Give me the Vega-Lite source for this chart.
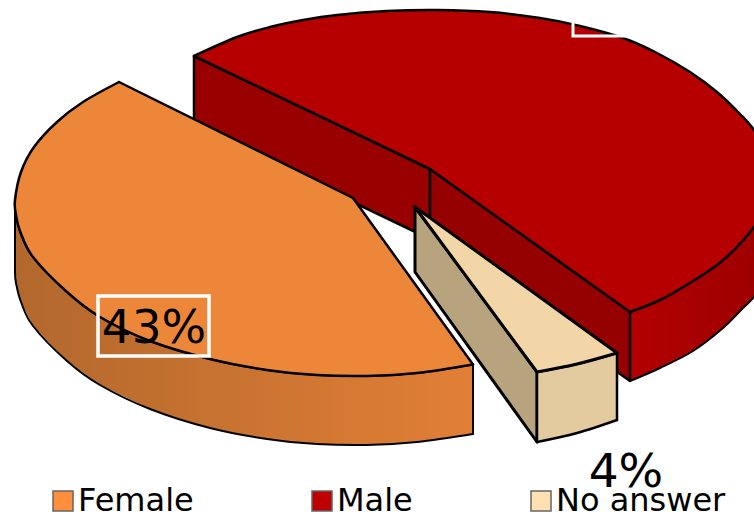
{"$schema":"https://vega.github.io/schema/vega-lite/v6.json","width":754,"height":514,"autosize":{"type":"fit","contains":"padding"},"padding":0,"background":"white","config":{"view":{"stroke":null}},
"datasets":{"faces":[
{"face":"mo","edge":1,"seq":1,"x":630,"y":312},{"face":"mo","edge":1,"seq":3,"x":660,"y":300},{"face":"mo","edge":1,"seq":4,"x":690,"y":283},{"face":"mo","edge":1,"seq":5,"x":717,"y":265},{"face":"mo","edge":1,"seq":6,"x":737,"y":247},{"face":"mo","edge":1,"seq":7,"x":754,"y":227},{"face":"mo","edge":1,"seq":8,"x":775,"y":195},{"face":"mo","edge":2,"seq":10,"x":775,"y":270},{"face":"mo","edge":2,"seq":12,"x":754,"y":297},{"face":"mo","edge":2,"seq":13,"x":743,"y":308},{"face":"mo","edge":2,"seq":14,"x":723,"y":328},{"face":"mo","edge":2,"seq":15,"x":693,"y":351},{"face":"mo","edge":2,"seq":16,"x":660,"y":368},{"face":"mo","edge":2,"seq":17,"x":630,"y":381},{"face":"mo","edge":3,"seq":18,"x":630,"y":381},{"face":"mo","edge":3,"seq":19,"x":630,"y":312},
{"face":"ms1","edge":1,"seq":1,"x":194,"y":56},{"face":"ms1","edge":1,"seq":2,"x":430,"y":169},{"face":"ms1","edge":1,"seq":3,"x":430,"y":239},{"face":"ms1","edge":1,"seq":4,"x":194,"y":126},{"face":"ms1","edge":1,"seq":5,"x":194,"y":56},
{"face":"ms2","edge":1,"seq":1,"x":430,"y":169},{"face":"ms2","edge":1,"seq":2,"x":630,"y":312},{"face":"ms2","edge":1,"seq":3,"x":630,"y":381},{"face":"ms2","edge":1,"seq":4,"x":430,"y":239},{"face":"ms2","edge":1,"seq":5,"x":430,"y":169},
{"face":"mt","edge":1,"seq":2,"x":194,"y":56},{"face":"mt","edge":1,"seq":3,"x":237,"y":37},{"face":"mt","edge":1,"seq":4,"x":270,"y":27},{"face":"mt","edge":1,"seq":5,"x":303,"y":20},{"face":"mt","edge":1,"seq":6,"x":337,"y":15},{"face":"mt","edge":1,"seq":7,"x":387,"y":11},{"face":"mt","edge":1,"seq":8,"x":437,"y":10},{"face":"mt","edge":1,"seq":9,"x":490,"y":12},{"face":"mt","edge":1,"seq":10,"x":540,"y":18},{"face":"mt","edge":1,"seq":11,"x":580,"y":26},{"face":"mt","edge":1,"seq":12,"x":623,"y":38},{"face":"mt","edge":1,"seq":13,"x":657,"y":53},{"face":"mt","edge":1,"seq":14,"x":690,"y":72},{"face":"mt","edge":1,"seq":15,"x":717,"y":92},{"face":"mt","edge":1,"seq":16,"x":740,"y":114},{"face":"mt","edge":1,"seq":17,"x":754,"y":130},{"face":"mt","edge":1,"seq":18,"x":768,"y":155},{"face":"mt","edge":1,"seq":19,"x":775,"y":195},{"face":"mt","edge":1,"seq":20,"x":754,"y":227},{"face":"mt","edge":1,"seq":21,"x":737,"y":247},{"face":"mt","edge":1,"seq":22,"x":717,"y":265},{"face":"mt","edge":1,"seq":23,"x":690,"y":283},{"face":"mt","edge":1,"seq":24,"x":660,"y":300},{"face":"mt","edge":1,"seq":25,"x":630,"y":312},{"face":"mt","edge":2,"seq":26,"x":630,"y":312},{"face":"mt","edge":2,"seq":27,"x":430,"y":169},{"face":"mt","edge":3,"seq":28,"x":430,"y":169},{"face":"mt","edge":3,"seq":29,"x":194,"y":56},
{"face":"fs","edge":1,"seq":2,"x":15,"y":205},{"face":"fs","edge":1,"seq":3,"x":20,"y":231},{"face":"fs","edge":1,"seq":4,"x":33,"y":257},{"face":"fs","edge":1,"seq":5,"x":67,"y":292},{"face":"fs","edge":1,"seq":6,"x":100,"y":317},{"face":"fs","edge":1,"seq":7,"x":150,"y":341},{"face":"fs","edge":1,"seq":8,"x":210,"y":359},{"face":"fs","edge":1,"seq":9,"x":267,"y":370},{"face":"fs","edge":1,"seq":10,"x":317,"y":375},{"face":"fs","edge":1,"seq":11,"x":367,"y":376},{"face":"fs","edge":1,"seq":12,"x":417,"y":373},{"face":"fs","edge":1,"seq":13,"x":473,"y":364.5},{"face":"fs","edge":2,"seq":14,"x":473,"y":364.5},{"face":"fs","edge":2,"seq":15,"x":473,"y":434},{"face":"fs","edge":3,"seq":16,"x":473,"y":434},{"face":"fs","edge":3,"seq":17,"x":417,"y":442},{"face":"fs","edge":3,"seq":18,"x":367,"y":445},{"face":"fs","edge":3,"seq":19,"x":317,"y":444},{"face":"fs","edge":3,"seq":20,"x":267,"y":439},{"face":"fs","edge":3,"seq":21,"x":210,"y":428},{"face":"fs","edge":3,"seq":22,"x":150,"y":409},{"face":"fs","edge":3,"seq":23,"x":100,"y":385},{"face":"fs","edge":3,"seq":24,"x":67,"y":361},{"face":"fs","edge":3,"seq":25,"x":33,"y":326},{"face":"fs","edge":3,"seq":26,"x":21,"y":302},{"face":"fs","edge":3,"seq":27,"x":16,"y":283},{"face":"fs","edge":3,"seq":28,"x":15,"y":272},{"face":"fs","edge":4,"seq":29,"x":15,"y":272},{"face":"fs","edge":4,"seq":30,"x":15,"y":205},
{"face":"ft","edge":1,"seq":1,"x":353,"y":198},{"face":"ft","edge":1,"seq":2,"x":119,"y":82},{"face":"ft","edge":2,"seq":4,"x":119,"y":82},{"face":"ft","edge":2,"seq":5,"x":83,"y":102},{"face":"ft","edge":2,"seq":6,"x":57,"y":122},{"face":"ft","edge":2,"seq":7,"x":34,"y":147},{"face":"ft","edge":2,"seq":8,"x":21,"y":172},{"face":"ft","edge":2,"seq":9,"x":15,"y":200},{"face":"ft","edge":2,"seq":10,"x":16,"y":215},{"face":"ft","edge":2,"seq":11,"x":20,"y":231},{"face":"ft","edge":2,"seq":12,"x":33,"y":257},{"face":"ft","edge":2,"seq":13,"x":67,"y":292},{"face":"ft","edge":2,"seq":14,"x":100,"y":317},{"face":"ft","edge":2,"seq":15,"x":150,"y":341},{"face":"ft","edge":2,"seq":16,"x":210,"y":359},{"face":"ft","edge":2,"seq":17,"x":267,"y":370},{"face":"ft","edge":2,"seq":18,"x":317,"y":375},{"face":"ft","edge":2,"seq":19,"x":367,"y":376},{"face":"ft","edge":2,"seq":20,"x":417,"y":373},{"face":"ft","edge":2,"seq":21,"x":473,"y":364.5},{"face":"ft","edge":3,"seq":22,"x":473,"y":364.5},{"face":"ft","edge":3,"seq":23,"x":353,"y":198},
{"face":"ns","edge":1,"seq":1,"x":415,"y":207},{"face":"ns","edge":1,"seq":2,"x":537,"y":372},{"face":"ns","edge":2,"seq":3,"x":537,"y":372},{"face":"ns","edge":2,"seq":4,"x":537,"y":442},{"face":"ns","edge":3,"seq":5,"x":537,"y":442},{"face":"ns","edge":3,"seq":6,"x":415,"y":272},{"face":"ns","edge":4,"seq":7,"x":415,"y":272},{"face":"ns","edge":4,"seq":8,"x":415,"y":207},
{"face":"nf","edge":1,"seq":1,"x":537,"y":372},{"face":"nf","edge":1,"seq":3,"x":577,"y":364},{"face":"nf","edge":1,"seq":4,"x":617,"y":353},{"face":"nf","edge":2,"seq":5,"x":617,"y":353},{"face":"nf","edge":2,"seq":6,"x":617,"y":420},{"face":"nf","edge":3,"seq":7,"x":617,"y":420},{"face":"nf","edge":3,"seq":8,"x":577,"y":433},{"face":"nf","edge":3,"seq":9,"x":537,"y":442},{"face":"nf","edge":4,"seq":10,"x":537,"y":442},{"face":"nf","edge":4,"seq":11,"x":537,"y":372},
{"face":"nt","edge":1,"seq":1,"x":415,"y":207},{"face":"nt","edge":1,"seq":2,"x":617,"y":353},{"face":"nt","edge":2,"seq":3,"x":617,"y":353},{"face":"nt","edge":2,"seq":4,"x":577,"y":364},{"face":"nt","edge":2,"seq":5,"x":537,"y":372},{"face":"nt","edge":3,"seq":6,"x":537,"y":372},{"face":"nt","edge":3,"seq":7,"x":415,"y":207}
]},
"encoding":{"x":{"field":"x","type":"quantitative","scale":{"domain":[0,754],"nice":false,"zero":false},"axis":null},"y":{"field":"y","type":"quantitative","scale":{"domain":[514,0],"nice":false,"zero":false},"axis":null}},
"layer":[
{"data":{"name":"faces"},"transform":[{"filter":"datum.face==='mo'"}],"mark":{"type":"line","clip":true,"strokeOpacity":0,"fill":{"gradient":"linear","x1":0,"x2":1,"y1":0,"y2":0,"stops":[{"offset":0,"color":"#B30000"},{"offset":1,"color":"#9A0000"}]}},"encoding":{"order":{"field":"seq"}}},
{"data":{"name":"faces"},"transform":[{"filter":"datum.face==='mo'"}],"mark":{"type":"line","clip":true,"interpolate":"cardinal","tension":0,"stroke":"black","strokeWidth":2,"strokeCap":"round"},"encoding":{"order":{"field":"seq"},"detail":{"field":"edge"}}},
{"data":{"name":"faces"},"transform":[{"filter":"datum.face==='ms1'"}],"mark":{"type":"line","fill":"#990000","stroke":"black","strokeWidth":2.5,"strokeJoin":"round"},"encoding":{"order":{"field":"seq"}}},
{"data":{"name":"faces"},"transform":[{"filter":"datum.face==='ms2'"}],"mark":{"type":"line","fill":"#950000","stroke":"black","strokeWidth":2.5,"strokeJoin":"round"},"encoding":{"order":{"field":"seq"}}},
{"data":{"name":"faces"},"transform":[{"filter":"datum.face==='mt'"}],"mark":{"type":"line","clip":true,"strokeOpacity":0,"fill":"#B60000"},"encoding":{"order":{"field":"seq"}}},
{"data":{"name":"faces"},"transform":[{"filter":"datum.face==='mt'"}],"mark":{"type":"line","clip":true,"interpolate":"cardinal","tension":0,"stroke":"black","strokeWidth":2.5,"strokeCap":"round"},"encoding":{"order":{"field":"seq"},"detail":{"field":"edge"}}},
{"data":{"values":[{"x":573,"y":-24,"x2":684,"y2":36}]},"mark":{"type":"rect","clip":true,"fillOpacity":0,"stroke":"white","strokeWidth":3},"encoding":{"x2":{"field":"x2"},"y2":{"field":"y2"}}},
{"data":{"name":"faces"},"transform":[{"filter":"datum.face==='fs'"}],"mark":{"type":"line","strokeOpacity":0,"fill":{"gradient":"linear","x1":0,"x2":1,"y1":0,"y2":0,"stops":[{"offset":0,"color":"#B2682C"},{"offset":1,"color":"#E27F36"}]}},"encoding":{"order":{"field":"seq"}}},
{"data":{"name":"faces"},"transform":[{"filter":"datum.face==='fs'"}],"mark":{"type":"line","interpolate":"cardinal","tension":0,"stroke":"black","strokeWidth":2,"strokeCap":"round"},"encoding":{"order":{"field":"seq"},"detail":{"field":"edge"}}},
{"data":{"name":"faces"},"transform":[{"filter":"datum.face==='ft'"}],"mark":{"type":"line","strokeOpacity":0,"fill":"#EC873A"},"encoding":{"order":{"field":"seq"}}},
{"data":{"name":"faces"},"transform":[{"filter":"datum.face==='ft'"}],"mark":{"type":"line","interpolate":"cardinal","tension":0,"stroke":"black","strokeWidth":2.5,"strokeCap":"round"},"encoding":{"order":{"field":"seq"},"detail":{"field":"edge"}}},
{"data":{"name":"faces"},"transform":[{"filter":"datum.face==='ns'"}],"mark":{"type":"line","fill":"#B7A37E","stroke":"black","strokeWidth":3,"strokeJoin":"round"},"encoding":{"order":{"field":"seq"}}},
{"data":{"name":"faces"},"transform":[{"filter":"datum.face==='nf'"}],"mark":{"type":"line","strokeOpacity":0,"fill":"#E3CB9F"},"encoding":{"order":{"field":"seq"}}},
{"data":{"name":"faces"},"transform":[{"filter":"datum.face==='nf'"}],"mark":{"type":"line","interpolate":"cardinal","tension":0,"stroke":"black","strokeWidth":2.5,"strokeCap":"round"},"encoding":{"order":{"field":"seq"},"detail":{"field":"edge"}}},
{"data":{"name":"faces"},"transform":[{"filter":"datum.face==='nt'"}],"mark":{"type":"line","strokeOpacity":0,"fill":"#F3D6A8"},"encoding":{"order":{"field":"seq"}}},
{"data":{"name":"faces"},"transform":[{"filter":"datum.face==='nt'"}],"mark":{"type":"line","interpolate":"cardinal","tension":0,"stroke":"black","strokeWidth":3,"strokeCap":"round"},"encoding":{"order":{"field":"seq"},"detail":{"field":"edge"}}},
{"data":{"values":[{"x":98,"y":296,"x2":209,"y2":356}]},"mark":{"type":"rect","fillOpacity":0,"stroke":"white","strokeWidth":3.5},"encoding":{"x2":{"field":"x2"},"y2":{"field":"y2"}}},
{"data":{"values":[{"x":154,"y":343,"label":"43%"},{"x":626,"y":487,"label":"4%"}]},"mark":{"type":"text","font":"DejaVu Sans","fontSize":47,"align":"center","baseline":"alphabetic","color":"black"},"encoding":{"text":{"field":"label"}}},
{"data":{"values":[{"category":"Female","share":43},{"category":"Male","share":53},{"category":"No answer","share":4}]},"mark":{"type":"point","filled":true,"shape":"square"},"encoding":{"x":{"field":"xx","type":"quantitative"},"y":{"field":"yy","type":"quantitative"},"fill":{"field":"category","type":"nominal","scale":{"domain":["Female","Male","No answer"],"range":["#FF8F3C","#BF0000","#FFE0B0"]},"legend":{"title":null,"orient":"none","legendX":47,"legendY":485,"direction":"horizontal","columns":3,"gridAlign":"none","columnPadding":112,"padding":0,"symbolType":"square","symbolSize":400,"symbolStrokeColor":"#666666","symbolStrokeWidth":1.5,"symbolOpacity":1,"labelFont":"DejaVu Sans","labelFontSize":32,"labelColor":"black","labelLimit":400,"labelOffset":-1,"symbolOffset":0}}}}
]}
